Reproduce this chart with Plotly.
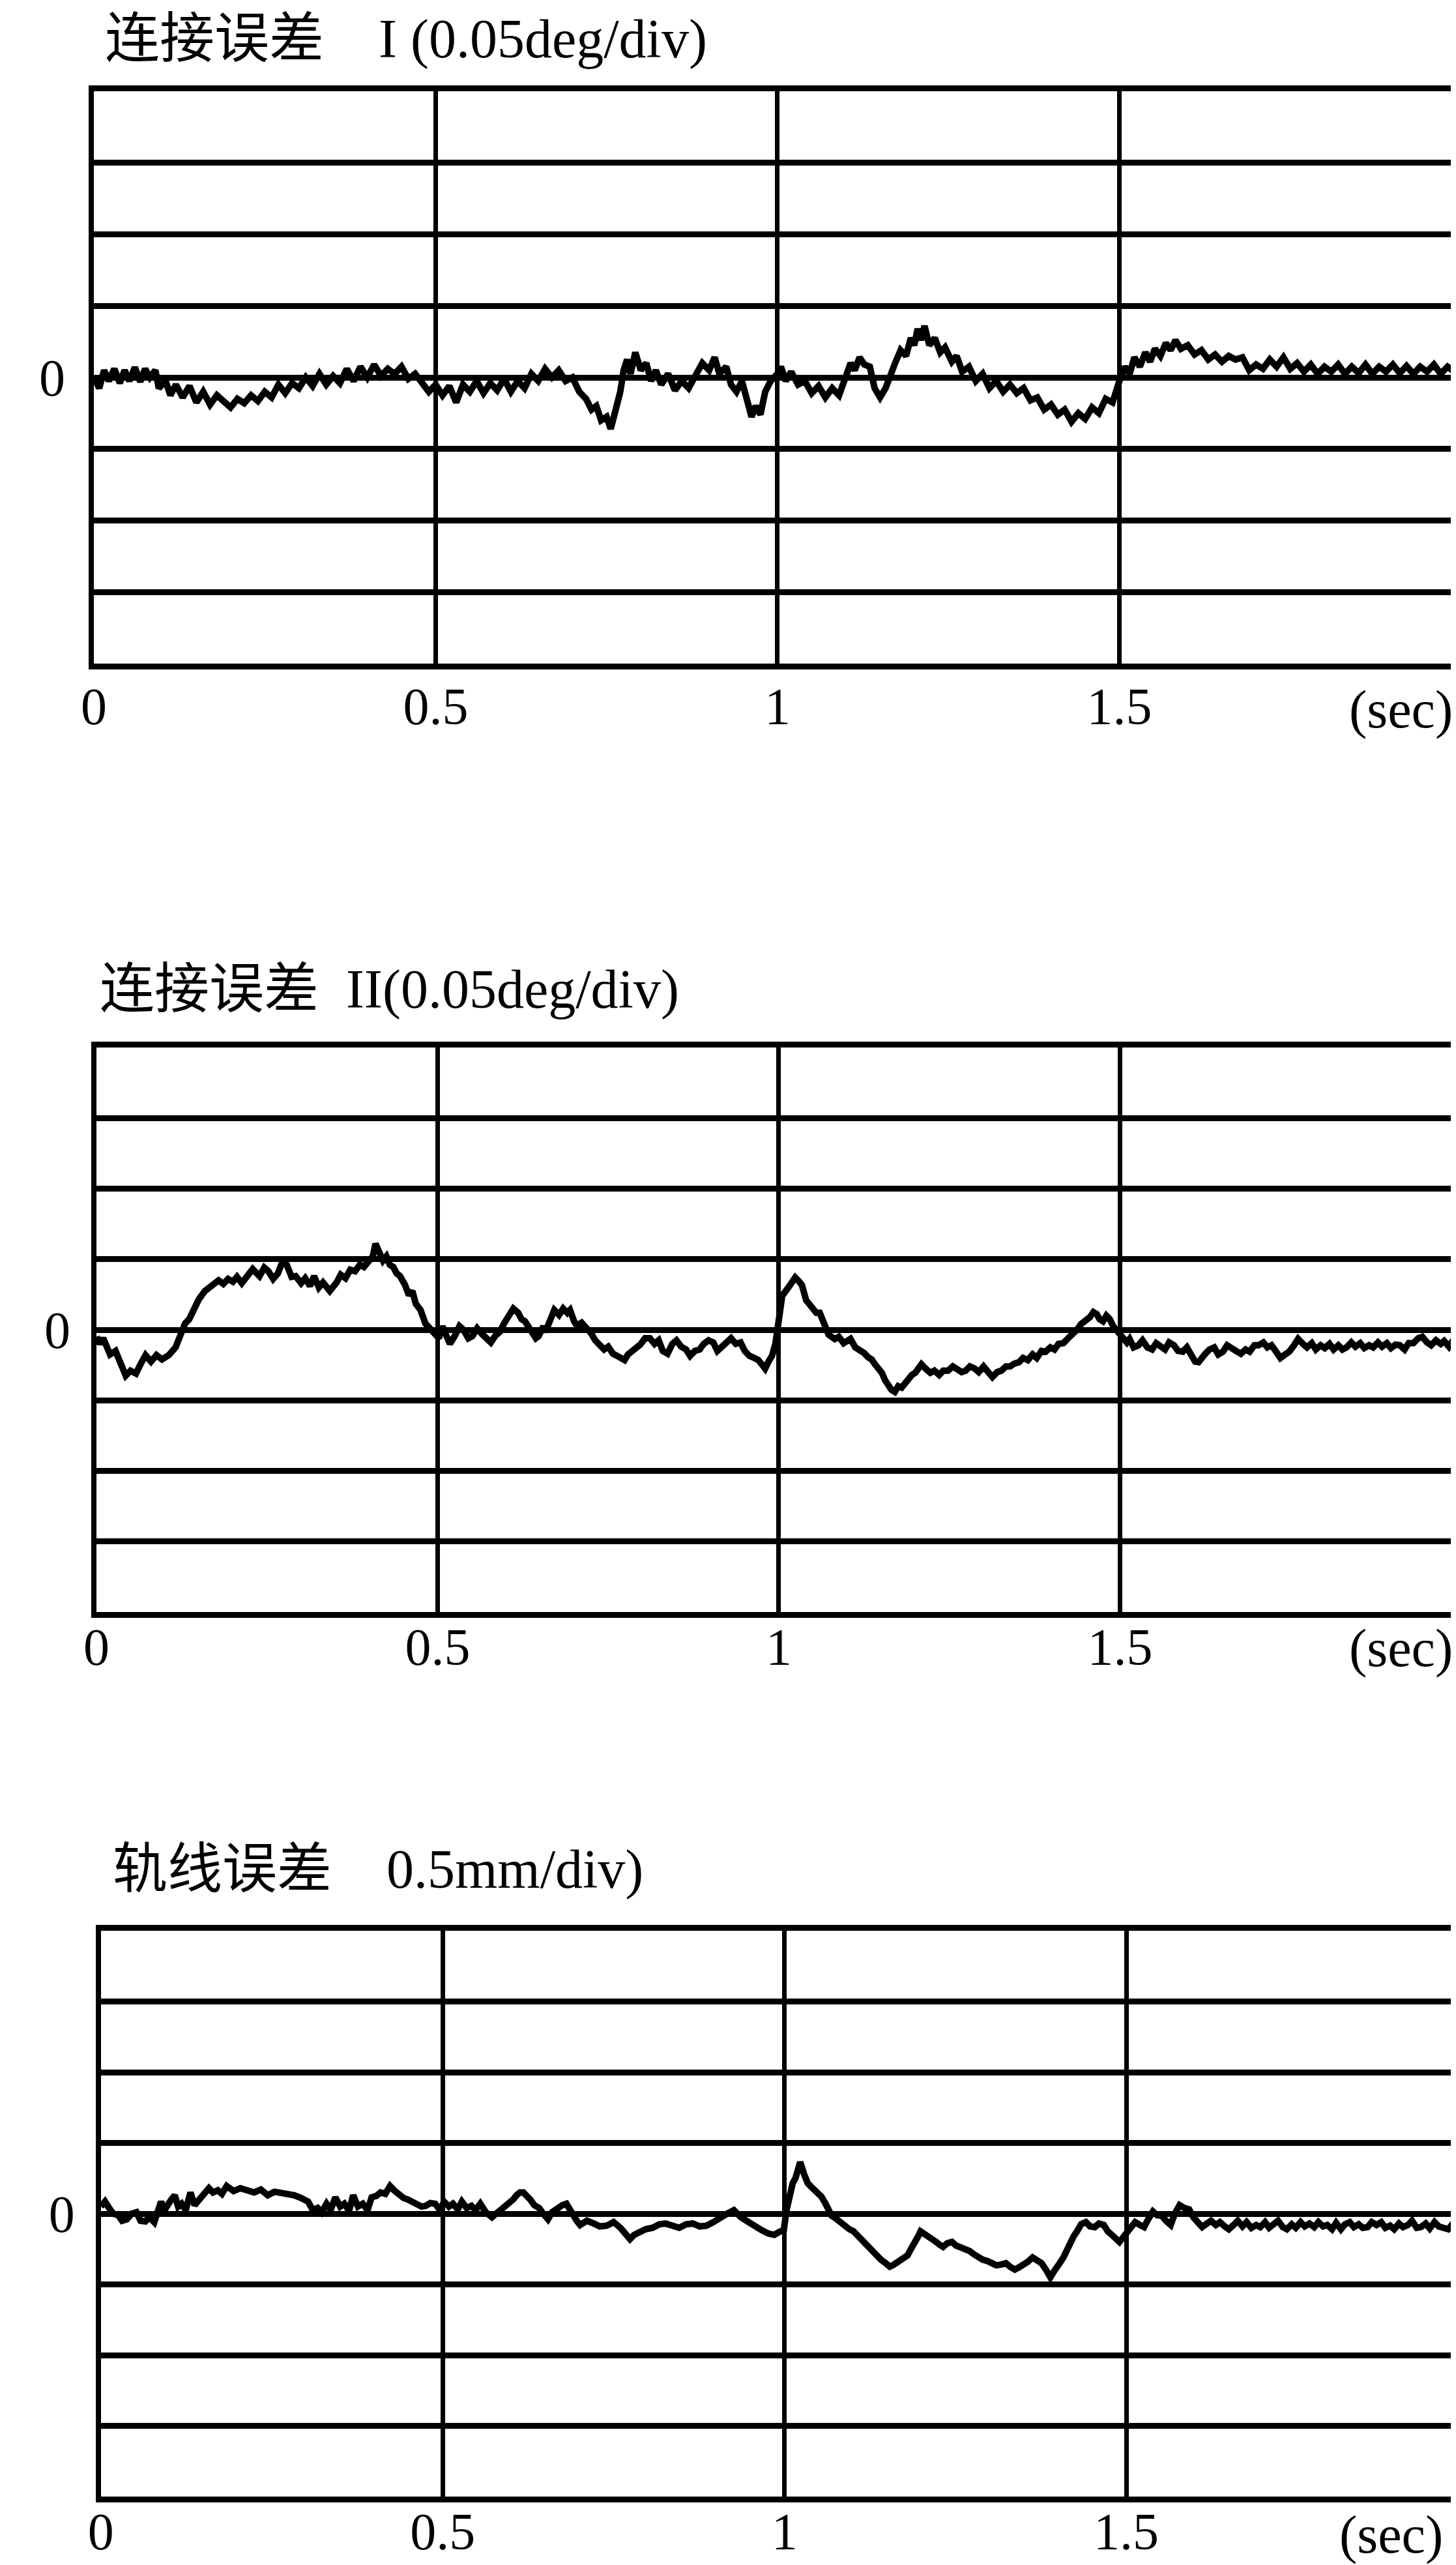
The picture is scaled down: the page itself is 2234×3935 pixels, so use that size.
import plotly.graph_objects as go

# ---------------- data (time in s, error in grid divisions) ----------------
# Panel 1: 连接误差 I (1 div = 0.05 deg)
joint1_pts = [
    (0.000, 0.00), (0.008, -0.15), (0.015, 0.10), (0.022, -0.05), (0.030, 0.12), (0.038, -0.08),
    (0.045, 0.10), (0.052, -0.05), (0.060, 0.14), (0.068, -0.06), (0.075, 0.12), (0.082, 0.00),
    (0.090, 0.10), (0.095, -0.15), (0.105, -0.05), (0.112, -0.25), (0.120, -0.10), (0.130, -0.28),
    (0.140, -0.12), (0.150, -0.35), (0.160, -0.20), (0.170, -0.38), (0.180, -0.25), (0.190, -0.35),
    (0.200, -0.42), (0.210, -0.30), (0.220, -0.36), (0.230, -0.25), (0.240, -0.33), (0.250, -0.20),
    (0.260, -0.28), (0.270, -0.10), (0.280, -0.22), (0.290, -0.08), (0.300, -0.15), (0.310, 0.00),
    (0.320, -0.12), (0.330, 0.05), (0.340, -0.10), (0.350, 0.02), (0.360, -0.08), (0.370, 0.12),
    (0.380, -0.05), (0.390, 0.15), (0.400, 0.00), (0.410, 0.18), (0.420, 0.02), (0.430, 0.12),
    (0.440, 0.05), (0.450, 0.15), (0.460, -0.02), (0.470, 0.05), (0.480, -0.08), (0.490, -0.20),
    (0.500, -0.10), (0.510, -0.25), (0.520, -0.12), (0.530, -0.35), (0.540, -0.10), (0.550, -0.20),
    (0.560, -0.05), (0.570, -0.22), (0.580, -0.08), (0.590, -0.18), (0.600, -0.02), (0.610, -0.20),
    (0.620, -0.05), (0.630, -0.15), (0.640, 0.05), (0.650, -0.05), (0.660, 0.12), (0.670, 0.00),
    (0.680, 0.10), (0.690, -0.05), (0.700, 0.00), (0.710, -0.20), (0.720, -0.30), (0.728, -0.45),
    (0.735, -0.40), (0.742, -0.60), (0.750, -0.55), (0.756, -0.72), (0.762, -0.50), (0.770, -0.20),
    (0.775, 0.10), (0.780, 0.25), (0.785, 0.05), (0.792, 0.35), (0.800, 0.10), (0.808, 0.20),
    (0.815, -0.05), (0.822, 0.10), (0.830, -0.10), (0.840, 0.05), (0.850, -0.18), (0.860, -0.05),
    (0.870, -0.15), (0.880, 0.05), (0.890, 0.20), (0.900, 0.10), (0.908, 0.28), (0.915, 0.05),
    (0.925, 0.15), (0.932, -0.10), (0.940, -0.20), (0.948, -0.05), (0.955, -0.35), (0.962, -0.55),
    (0.968, -0.40), (0.975, -0.52), (0.982, -0.20), (0.990, -0.05), (1.000, 0.05),
    (1.005, 0.15), (1.012, -0.05), (1.020, 0.08), (1.030, -0.10), (1.040, -0.05), (1.050, -0.22),
    (1.060, -0.12), (1.070, -0.28), (1.080, -0.15), (1.090, -0.25), (1.100, 0.00), (1.107, 0.20),
    (1.113, 0.10), (1.120, 0.28), (1.127, 0.18), (1.135, 0.15), (1.142, -0.15), (1.150, -0.28),
    (1.158, -0.15), (1.165, 0.05), (1.172, 0.20), (1.180, 0.38), (1.188, 0.30), (1.195, 0.55),
    (1.200, 0.45), (1.205, 0.68), (1.210, 0.52), (1.215, 0.72), (1.222, 0.45), (1.230, 0.55),
    (1.238, 0.35), (1.245, 0.42), (1.255, 0.22), (1.262, 0.30), (1.270, 0.08), (1.280, 0.15),
    (1.290, -0.05), (1.300, 0.05), (1.310, -0.15), (1.320, -0.05), (1.330, -0.20), (1.340, -0.10),
    (1.350, -0.22), (1.360, -0.15), (1.370, -0.32), (1.380, -0.28), (1.390, -0.45), (1.400, -0.38),
    (1.410, -0.52), (1.420, -0.45), (1.430, -0.62), (1.440, -0.50), (1.450, -0.58), (1.460, -0.42),
    (1.470, -0.50), (1.480, -0.30), (1.490, -0.35), (1.500, -0.05), (1.508, 0.15), (1.515, 0.05),
    (1.522, 0.28), (1.530, 0.15), (1.538, 0.35), (1.545, 0.22), (1.552, 0.40), (1.560, 0.30),
    (1.568, 0.48), (1.575, 0.38), (1.582, 0.52), (1.590, 0.40), (1.600, 0.45), (1.610, 0.32),
    (1.620, 0.38), (1.630, 0.25), (1.640, 0.32), (1.650, 0.22), (1.660, 0.30), (1.670, 0.25),
    (1.680, 0.28), (1.690, 0.10), (1.700, 0.18), (1.710, 0.12), (1.720, 0.25), (1.730, 0.15),
    (1.740, 0.28), (1.750, 0.12), (1.760, 0.20), (1.770, 0.08), (1.780, 0.18), (1.790, 0.05),
    (1.800, 0.15), (1.810, 0.08), (1.820, 0.18), (1.830, 0.05), (1.840, 0.15), (1.850, 0.06),
    (1.860, 0.18), (1.870, 0.05), (1.880, 0.15), (1.890, 0.08), (1.900, 0.18), (1.910, 0.06),
    (1.920, 0.16), (1.930, 0.05), (1.940, 0.15), (1.950, 0.08), (1.960, 0.18), (1.970, 0.05),
    (1.980, 0.15), (1.990, 0.08), (2.000, 0.12),
]

# Panel 2: 连接误差 II (1 div = 0.05 deg)
joint2_pts = [
    (0.000, -0.10), (0.005, -0.20), (0.010, -0.12), (0.020, -0.35), (0.028, -0.30), (0.035, -0.48),
    (0.043, -0.65), (0.050, -0.58), (0.058, -0.62), (0.065, -0.48), (0.072, -0.36), (0.080, -0.45),
    (0.088, -0.36), (0.096, -0.42), (0.106, -0.36), (0.116, -0.25), (0.123, -0.06), (0.130, 0.09),
    (0.136, 0.15), (0.143, 0.30), (0.150, 0.43), (0.159, 0.55), (0.169, 0.64), (0.179, 0.70),
    (0.186, 0.65), (0.193, 0.72), (0.200, 0.68), (0.206, 0.75), (0.213, 0.66), (0.219, 0.73),
    (0.229, 0.86), (0.239, 0.76), (0.246, 0.88), (0.252, 0.83), (0.259, 0.72), (0.266, 0.80),
    (0.272, 0.95), (0.279, 0.92), (0.286, 0.75), (0.292, 0.76), (0.300, 0.66), (0.306, 0.73),
    (0.313, 0.62), (0.319, 0.76), (0.326, 0.60), (0.332, 0.67), (0.342, 0.55), (0.352, 0.67),
    (0.358, 0.78), (0.365, 0.73), (0.372, 0.85), (0.379, 0.83), (0.386, 0.92), (0.392, 0.89),
    (0.400, 1.00), (0.405, 1.04), (0.409, 1.22), (0.415, 1.07), (0.420, 0.98), (0.425, 1.04),
    (0.430, 0.92), (0.435, 0.89), (0.440, 0.80), (0.445, 0.76), (0.452, 0.64), (0.458, 0.49),
    (0.463, 0.55), (0.468, 0.37), (0.475, 0.28), (0.482, 0.09), (0.492, -0.03), (0.502, -0.12),
    (0.507, 0.05), (0.512, -0.06), (0.518, -0.20), (0.525, -0.09), (0.532, 0.05), (0.538, 0.00),
    (0.545, -0.12), (0.551, -0.09), (0.558, 0.02), (0.565, -0.06), (0.572, -0.12), (0.578, -0.18),
    (0.585, -0.08), (0.591, -0.03), (0.598, 0.10), (0.605, 0.21), (0.611, 0.30), (0.618, 0.24),
    (0.623, 0.15), (0.628, 0.12), (0.633, 0.05), (0.638, -0.03), (0.644, -0.12), (0.648, -0.09),
    (0.655, 0.05), (0.658, -0.03), (0.665, 0.15), (0.671, 0.28), (0.678, 0.21), (0.684, 0.30),
    (0.690, 0.24), (0.694, 0.28), (0.700, 0.12), (0.704, 0.06), (0.711, 0.10), (0.718, 0.03),
    (0.725, -0.05), (0.731, -0.15), (0.738, -0.22), (0.744, -0.28), (0.750, -0.24), (0.757, -0.34),
    (0.765, -0.38), (0.774, -0.43), (0.779, -0.35), (0.784, -0.31), (0.790, -0.25), (0.797, -0.21),
    (0.804, -0.12), (0.811, -0.12), (0.818, -0.20), (0.824, -0.15), (0.830, -0.30), (0.837, -0.34),
    (0.844, -0.20), (0.850, -0.15), (0.857, -0.24), (0.864, -0.28), (0.870, -0.37), (0.877, -0.30),
    (0.884, -0.28), (0.890, -0.20), (0.897, -0.15), (0.904, -0.18), (0.910, -0.30), (0.917, -0.24),
    (0.924, -0.15), (0.930, -0.12), (0.937, -0.20), (0.944, -0.18), (0.950, -0.30), (0.957, -0.37),
    (0.964, -0.40), (0.970, -0.43), (0.976, -0.50), (0.980, -0.55), (0.985, -0.45), (0.990, -0.37),
    (0.995, -0.20), (1.000, 0.10), (1.005, 0.48), (1.014, 0.60), (1.024, 0.74), (1.030, 0.68),
    (1.034, 0.63), (1.040, 0.42), (1.045, 0.35), (1.050, 0.30), (1.055, 0.24), (1.060, 0.24),
    (1.066, 0.12), (1.073, -0.07), (1.082, -0.13), (1.088, -0.10), (1.095, -0.19), (1.105, -0.13),
    (1.112, -0.25), (1.118, -0.28), (1.125, -0.33), (1.131, -0.39), (1.136, -0.42), (1.141, -0.49),
    (1.146, -0.55), (1.151, -0.61), (1.156, -0.72), (1.160, -0.79), (1.165, -0.85), (1.170, -0.88),
    (1.175, -0.80), (1.180, -0.82), (1.185, -0.75), (1.190, -0.70), (1.195, -0.64), (1.200, -0.61),
    (1.205, -0.55), (1.209, -0.49), (1.215, -0.55), (1.222, -0.61), (1.228, -0.58), (1.235, -0.64),
    (1.241, -0.58), (1.248, -0.58), (1.255, -0.52), (1.261, -0.55), (1.268, -0.60), (1.274, -0.58),
    (1.280, -0.52), (1.287, -0.55), (1.293, -0.60), (1.300, -0.52), (1.306, -0.58), (1.313, -0.67),
    (1.320, -0.60), (1.326, -0.58), (1.333, -0.52), (1.339, -0.52), (1.345, -0.48), (1.352, -0.46),
    (1.358, -0.40), (1.365, -0.43), (1.372, -0.35), (1.378, -0.40), (1.385, -0.30), (1.391, -0.31),
    (1.398, -0.25), (1.404, -0.28), (1.410, -0.20), (1.417, -0.19), (1.424, -0.12), (1.430, -0.07),
    (1.437, 0.00), (1.443, 0.08), (1.450, 0.12), (1.456, 0.18), (1.461, 0.25), (1.466, 0.22),
    (1.470, 0.15), (1.475, 0.12), (1.480, 0.20), (1.485, 0.15), (1.490, 0.05), (1.495, 0.00),
    (1.500, -0.05), (1.505, -0.10), (1.510, -0.18), (1.514, -0.13), (1.520, -0.25), (1.527, -0.22),
    (1.533, -0.15), (1.540, -0.25), (1.547, -0.28), (1.553, -0.19), (1.560, -0.25), (1.566, -0.28),
    (1.572, -0.18), (1.579, -0.22), (1.585, -0.30), (1.592, -0.31), (1.598, -0.25), (1.605, -0.37),
    (1.610, -0.45), (1.615, -0.46), (1.620, -0.38), (1.625, -0.34), (1.631, -0.28), (1.638, -0.25),
    (1.644, -0.35), (1.651, -0.31), (1.657, -0.22), (1.664, -0.25), (1.670, -0.30), (1.677, -0.34),
    (1.684, -0.28), (1.690, -0.31), (1.697, -0.22), (1.703, -0.22), (1.710, -0.18), (1.716, -0.25),
    (1.722, -0.22), (1.728, -0.30), (1.735, -0.40), (1.742, -0.35), (1.748, -0.31), (1.755, -0.22),
    (1.761, -0.13), (1.768, -0.20), (1.774, -0.25), (1.781, -0.19), (1.787, -0.28), (1.794, -0.22),
    (1.800, -0.26), (1.807, -0.20), (1.813, -0.28), (1.820, -0.22), (1.826, -0.28), (1.832, -0.25),
    (1.839, -0.18), (1.845, -0.24), (1.852, -0.19), (1.858, -0.26), (1.865, -0.22), (1.871, -0.25),
    (1.878, -0.18), (1.884, -0.24), (1.891, -0.19), (1.897, -0.26), (1.904, -0.21), (1.910, -0.22),
    (1.917, -0.28), (1.923, -0.19), (1.930, -0.19), (1.937, -0.12), (1.943, -0.10), (1.950, -0.18),
    (1.956, -0.22), (1.963, -0.15), (1.970, -0.20), (1.975, -0.16), (1.982, -0.24), (1.988, -0.15),
    (1.994, -0.13),
]

# Panel 3: 轨线误差 (1 div = 0.5 mm)
path_pts = [
    (0.000, 0.10), (0.006, 0.17), (0.012, 0.08), (0.018, 0.00), (0.025, -0.02), (0.031, -0.10),
    (0.038, -0.08), (0.045, 0.00), (0.052, 0.02), (0.058, -0.10), (0.065, -0.11), (0.071, -0.05),
    (0.078, -0.12), (0.083, 0.00), (0.088, 0.17), (0.093, 0.05), (0.098, 0.14), (0.103, 0.20),
    (0.108, 0.26), (0.113, 0.10), (0.118, 0.14), (0.124, 0.05), (0.131, 0.30), (0.137, 0.12),
    (0.144, 0.20), (0.150, 0.28), (0.158, 0.36), (0.164, 0.30), (0.171, 0.33), (0.177, 0.28),
    (0.184, 0.39), (0.194, 0.32), (0.204, 0.36), (0.214, 0.33), (0.224, 0.30), (0.234, 0.34),
    (0.244, 0.26), (0.254, 0.31), (0.264, 0.30), (0.274, 0.27), (0.283, 0.26), (0.293, 0.22),
    (0.303, 0.17), (0.310, 0.05), (0.317, 0.08), (0.323, 0.02), (0.330, 0.14), (0.336, 0.05),
    (0.343, 0.23), (0.350, 0.10), (0.356, 0.14), (0.363, 0.04), (0.369, 0.26), (0.376, 0.10),
    (0.383, 0.14), (0.390, 0.05), (0.396, 0.23), (0.403, 0.25), (0.409, 0.30), (0.416, 0.28),
    (0.423, 0.39), (0.430, 0.32), (0.436, 0.26), (0.443, 0.22), (0.449, 0.20), (0.456, 0.16),
    (0.462, 0.14), (0.469, 0.10), (0.475, 0.11), (0.482, 0.15), (0.489, 0.14), (0.496, 0.05),
    (0.502, 0.17), (0.509, 0.10), (0.515, 0.14), (0.522, 0.06), (0.528, 0.17), (0.535, 0.08),
    (0.542, 0.11), (0.548, 0.05), (0.555, 0.14), (0.563, 0.02), (0.572, -0.05), (0.578, 0.00),
    (0.585, 0.05), (0.592, 0.10), (0.598, 0.14), (0.603, 0.20), (0.608, 0.26), (0.613, 0.30),
    (0.618, 0.30), (0.623, 0.26), (0.628, 0.20), (0.634, 0.12), (0.641, 0.08), (0.647, 0.00),
    (0.654, -0.08), (0.660, 0.02), (0.668, 0.08), (0.675, 0.12), (0.681, 0.14), (0.686, 0.05),
    (0.691, 0.00), (0.696, -0.10), (0.701, -0.16), (0.711, -0.10), (0.721, -0.14), (0.730, -0.18),
    (0.740, -0.17), (0.750, -0.12), (0.760, -0.20), (0.767, -0.28), (0.774, -0.36), (0.780, -0.30),
    (0.787, -0.26), (0.797, -0.22), (0.807, -0.20), (0.817, -0.15), (0.826, -0.14), (0.836, -0.18),
    (0.846, -0.20), (0.856, -0.15), (0.866, -0.14), (0.876, -0.18), (0.886, -0.17), (0.896, -0.12),
    (0.906, -0.05), (0.916, 0.00), (0.926, 0.05), (0.936, -0.05), (0.946, -0.11), (0.956, -0.18),
    (0.966, -0.23), (0.976, -0.28), (0.985, -0.30), (0.992, -0.26), (0.999, -0.23), (1.003, 0.05),
    (1.007, 0.28), (1.012, 0.43), (1.016, 0.50), (1.020, 0.60), (1.023, 0.73), (1.029, 0.55),
    (1.034, 0.43), (1.039, 0.38), (1.044, 0.34), (1.049, 0.28), (1.054, 0.24), (1.059, 0.16),
    (1.064, 0.06), (1.069, -0.03), (1.074, -0.06), (1.078, -0.09), (1.083, -0.15), (1.088, -0.19),
    (1.095, -0.22), (1.101, -0.25), (1.108, -0.32), (1.114, -0.40), (1.120, -0.46), (1.127, -0.53),
    (1.134, -0.58), (1.141, -0.65), (1.148, -0.70), (1.154, -0.75), (1.160, -0.72), (1.167, -0.67),
    (1.174, -0.63), (1.180, -0.59), (1.185, -0.50), (1.190, -0.43), (1.195, -0.33), (1.199, -0.25),
    (1.204, -0.28), (1.209, -0.30), (1.216, -0.36), (1.222, -0.40), (1.227, -0.44), (1.232, -0.47),
    (1.238, -0.42), (1.245, -0.40), (1.251, -0.45), (1.258, -0.47), (1.264, -0.50), (1.271, -0.53),
    (1.278, -0.58), (1.284, -0.62), (1.290, -0.65), (1.297, -0.67), (1.304, -0.70), (1.310, -0.73),
    (1.317, -0.72), (1.324, -0.70), (1.330, -0.75), (1.337, -0.79), (1.343, -0.76), (1.350, -0.73),
    (1.356, -0.68), (1.363, -0.62), (1.370, -0.66), (1.376, -0.70), (1.383, -0.80), (1.389, -0.90),
    (1.394, -0.82), (1.399, -0.73), (1.404, -0.68), (1.408, -0.62), (1.413, -0.50), (1.418, -0.40),
    (1.423, -0.32), (1.428, -0.25), (1.434, -0.15), (1.441, -0.12), (1.447, -0.18), (1.454, -0.19),
    (1.460, -0.14), (1.467, -0.16), (1.473, -0.25), (1.480, -0.31), (1.485, -0.36), (1.490, -0.40),
    (1.495, -0.34), (1.500, -0.28), (1.507, -0.18), (1.513, -0.12), (1.520, -0.16), (1.526, -0.19),
    (1.532, -0.08), (1.539, 0.03), (1.545, -0.02), (1.552, -0.03), (1.558, -0.10), (1.565, -0.16),
    (1.571, 0.00), (1.578, 0.12), (1.585, 0.08), (1.592, 0.06), (1.598, -0.05), (1.605, -0.12),
    (1.611, -0.19), (1.618, -0.14), (1.624, -0.10), (1.631, -0.16), (1.637, -0.12), (1.644, -0.18),
    (1.650, -0.22), (1.657, -0.16), (1.663, -0.10), (1.670, -0.18), (1.676, -0.12), (1.683, -0.20),
    (1.690, -0.16), (1.696, -0.19), (1.703, -0.12), (1.709, -0.20), (1.716, -0.16), (1.722, -0.10),
    (1.729, -0.19), (1.735, -0.22), (1.742, -0.15), (1.748, -0.20), (1.755, -0.12), (1.761, -0.18),
    (1.768, -0.14), (1.775, -0.19), (1.781, -0.12), (1.788, -0.18), (1.794, -0.16), (1.801, -0.22),
    (1.807, -0.13), (1.814, -0.22), (1.820, -0.15), (1.827, -0.12), (1.833, -0.19), (1.840, -0.15),
    (1.846, -0.20), (1.853, -0.19), (1.859, -0.12), (1.866, -0.16), (1.873, -0.12), (1.879, -0.20),
    (1.886, -0.17), (1.892, -0.22), (1.899, -0.14), (1.905, -0.19), (1.912, -0.16), (1.918, -0.10),
    (1.925, -0.20), (1.931, -0.19), (1.938, -0.14), (1.944, -0.21), (1.951, -0.12), (1.957, -0.18),
    (1.964, -0.20), (1.971, -0.22), (1.977, -0.15), (1.983, -0.19), (1.989, -0.19),
]

titles = ["连接误差\u3000I (0.05deg/div)", "连接误差\u2002II(0.05deg/div)", "轨线误差\u30000.5mm/div)"]
x_tick_vals = [0, 0.5, 1, 1.5]
x_tick_text = ["0", "0.5", "1", "1.5"]
y_tick_vals = [-4, -3, -2, -1, 0, 1, 2, 3, 4]
y_tick_text = ["", "", "", "", "0", "", "", "", ""]
unit_label = "(sec)"

# ---------------- layout geometry (pixels) ----------------
W, H = 2234, 3935
SERIF = "Liberation Serif, 'Noto Sans CJK SC', serif"
panels = [
    dict(pts=joint1_pts, left=117, top=132, bottom=1010, xmax=2.0, xlab_off=-12, ylab_len=20,
         title_xy=(132, 52), sec_xy=(2141, 1080)),
    dict(pts=joint2_pts, left=121, top=1599, bottom=2465, xmax=2.0, xlab_off=-24, ylab_len=16,
         title_xy=(124, 1510), sec_xy=(2141, 2520)),
    dict(pts=path_pts, left=128, top=2954, bottom=3822, xmax=1.99, xlab_off=-24, ylab_len=16,
         title_xy=(144, 2860), sec_xy=(2126, 3880)),
]

fig = go.Figure()
annotations = []
for i, p in enumerate(panels, start=1):
    sfx = "" if i == 1 else str(i)
    t = [a for a, b in p["pts"]]
    v = [b for a, b in p["pts"]]
    fig.add_trace(go.Scatter(
        x=t, y=v, mode="lines", xaxis="x" + sfx, yaxis="y" + sfx,
        line=dict(color="black", width=10), showlegend=False, hoverinfo="skip",
    ))
    fig.layout["xaxis" + sfx] = dict(
        domain=[p["left"] / W, 1.0], range=[0, p["xmax"]], anchor="y" + sfx,
        tickmode="array", tickvals=x_tick_vals, ticktext=x_tick_text,
        showgrid=True, gridcolor="black", gridwidth=7, zeroline=False,
        showline=True, linecolor="black", linewidth=9, mirror=True,
        ticks="", ticklabelstandoff=p["xlab_off"],
        tickfont=dict(family=SERIF, size=80, color="black"), fixedrange=True,
    )
    fig.layout["yaxis" + sfx] = dict(
        domain=[1 - p["bottom"] / H, 1 - p["top"] / H], range=[-4, 4], anchor="x" + sfx,
        tickmode="array", tickvals=y_tick_vals, ticktext=y_tick_text,
        showgrid=True, gridcolor="black", gridwidth=9, zeroline=False,
        showline=True, linecolor="black", linewidth=8, mirror=False,
        ticks="outside", ticklen=p["ylab_len"], tickcolor="rgba(0,0,0,0)",
        tickfont=dict(family=SERIF, size=80, color="black"), fixedrange=True,
    )
    annotations.append(dict(
        text=titles[i - 1], xref="paper", yref="paper",
        x=p["title_xy"][0] / W, y=1 - p["title_xy"][1] / H, xanchor="left", yanchor="middle",
        showarrow=False, font=dict(family=SERIF, size=84, color="black"),
    ))
    annotations.append(dict(
        text=unit_label, xref="paper", yref="paper",
        x=p["sec_xy"][0] / W, y=1 - p["sec_xy"][1] / H, xanchor="center", yanchor="middle",
        showarrow=False, font=dict(family=SERIF, size=82, color="black"),
    ))

fig.update_layout(
    width=W, height=H, autosize=False,
    margin=dict(l=0, r=0, t=0, b=0, pad=0),
    paper_bgcolor="white", plot_bgcolor="white",
    annotations=annotations, showlegend=False,
)

fig.write_html("out.html")
